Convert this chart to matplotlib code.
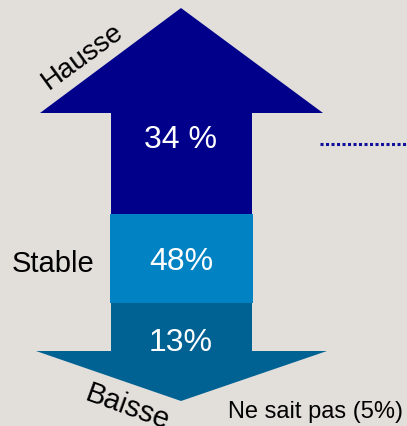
import matplotlib.pyplot as plt
from matplotlib.patches import Polygon, Rectangle

# data
categories = ['Hausse', 'Stable', 'Baisse']
value_labels = ['34 %', '48%', '13%']
other_label = 'Ne sait pas (5%)'

plt.rcParams['font.family'] = ['Liberation Sans', 'DejaVu Sans']

bg = '#e2dfdb'
c_up = '#00008b'
c_stable = '#0082c3'
c_down = '#006193'

fig = plt.figure(figsize=(4.07, 4.27), dpi=100, facecolor=bg)
ax = fig.add_axes([0, 0, 1, 1])
ax.set_facecolor(bg)
ax.set_xlim(0, 407)
ax.set_ylim(427, 0)
ax.axis('off')

# up arrow (Hausse)
up = Polygon([(181, 9), (323, 114), (252, 114), (252, 216), (111, 216), (111, 114), (40, 114)],
             closed=True, facecolor=c_up, edgecolor='none')
ax.add_patch(up)

# stable block
ax.add_patch(Rectangle((110, 215), 143, 89, facecolor=c_stable, edgecolor='none'))

# down arrow (Baisse)
down = Polygon([(111, 304), (252, 304), (252, 352), (327, 352), (181, 402), (36, 352), (111, 352)],
               closed=True, facecolor=c_down, edgecolor='none')
ax.add_patch(down)

# values in the arrow
for y, txt in zip([140, 262, 343], value_labels):
    ax.text(181, y, txt, color='white', fontsize=23, ha='center', va='center')

# category labels
ax.text(83, 57, categories[0], fontsize=20, rotation=36, ha='center', va='center',
        rotation_mode='anchor')
ax.text(53, 264, categories[1], fontsize=21, ha='center', va='center')
ax.text(127, 407, categories[2], fontsize=21, rotation=-20, ha='center', va='center',
        rotation_mode='anchor')
ax.text(315, 412, other_label, fontsize=17, ha='center', va='center')

# dotted connector
ax.plot([320, 407], [145, 145], color='#10109a', linestyle=(0, (1, 0.8)), linewidth=2.2,
        solid_capstyle='butt')

fig.savefig('out.png', dpi=100, facecolor=bg)
